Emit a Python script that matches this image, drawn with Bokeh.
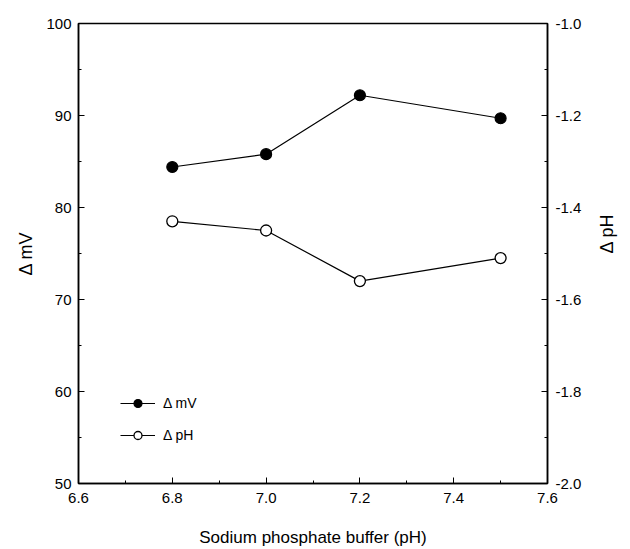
import math

from bokeh.plotting import figure
from bokeh.models import (Range1d, LinearAxis, FixedTicker, NumeralTickFormatter,
                          Legend, LegendItem)
from bokeh.embed import file_html
from bokeh.resources import INLINE

# Buffer pH values and the two measured responses
buffer_ph = [6.8, 7.0, 7.2, 7.5]
delta_mv = [84.4, 85.8, 92.2, 89.7]
delta_ph = [-1.43, -1.45, -1.56, -1.51]

x_ticks = [6.6, 6.8, 7.0, 7.2, 7.4, 7.6]
mv_ticks = [50, 60, 70, 80, 90, 100]
ph_ticks = [-2.0, -1.8, -1.6, -1.4, -1.2, -1.0]

FONT = "Liberation Sans"

p = figure(width=630, height=549, output_backend="svg", toolbar_location=None,
           x_range=Range1d(6.6, 7.6), y_range=Range1d(50, 100),
           min_border_left=78, min_border_right=76,
           min_border_top=23, min_border_bottom=66)
p.extra_y_ranges = {"ph": Range1d(-2.0, -1.0)}

p.grid.visible = False
p.background_fill_color = "white"
p.border_fill_color = "white"
p.outline_line_color = "black"
p.outline_line_width = 1.5


def style_axis(ax, ticks, minor, fmt):
    ax.ticker = FixedTicker(ticks=ticks, minor_ticks=minor)
    ax.formatter = NumeralTickFormatter(format=fmt)
    ax.axis_line_color = "black"
    ax.axis_line_width = 1.5
    ax.major_tick_in = 6
    ax.major_tick_out = 0
    ax.minor_tick_in = 3
    ax.minor_tick_out = 0
    ax.major_tick_line_color = "black"
    ax.minor_tick_line_color = "black"
    ax.major_label_text_font = FONT
    ax.major_label_text_font_size = "15px"
    ax.major_label_text_color = "black"
    ax.axis_label_text_font = FONT
    ax.axis_label_text_font_size = "18px"
    ax.axis_label_text_font_style = "normal"
    ax.axis_label_text_color = "black"


xax = p.xaxis[0]
style_axis(xax, x_ticks, [6.7, 6.9, 7.1, 7.3, 7.5], "0.0")
xax.axis_label = "Sodium phosphate buffer (pH)"
xax.axis_label_text_font_size = "17px"
xax.major_label_standoff = 9
xax.axis_label_standoff = 22

yax = p.yaxis[0]
style_axis(yax, mv_ticks, [55, 65, 75, 85, 95], "0")
yax.axis_label = "\u0394 mV"
yax.major_label_standoff = 7
yax.axis_label_standoff = 7

rax = LinearAxis(y_range_name="ph")
style_axis(rax, ph_ticks, [-1.9, -1.7, -1.5, -1.3, -1.1], "0.0")
rax.axis_label = "\u0394 pH"
rax.axis_label_orientation = math.pi / 2
rax.major_label_standoff = 8
rax.axis_label_standoff = 23
p.add_layout(rax, "right")

# Delta mV series (filled circles, left axis)
l1 = p.line(buffer_ph, delta_mv, line_color="black", line_width=1.2)
m1 = p.scatter(buffer_ph, delta_mv, marker="circle", size=11,
               fill_color="black", line_color="black", line_width=1.2)

# Delta pH series (open circles, right axis)
l2 = p.line(buffer_ph, delta_ph, line_color="black", line_width=1.2,
            y_range_name="ph")
m2 = p.scatter(buffer_ph, delta_ph, marker="circle", size=11,
               fill_color="white", line_color="black", line_width=1.3,
               y_range_name="ph")

legend = Legend(items=[LegendItem(label="\u0394 mV", renderers=[l1, m1]),
                       LegendItem(label="\u0394 pH", renderers=[l2, m2])],
                location=(42, 38), orientation="vertical")
legend.border_line_color = None
legend.background_fill_alpha = 0
legend.padding = 0
legend.margin = 0
legend.spacing = 12
legend.glyph_width = 35
legend.glyph_height = 20
legend.label_height = 20
legend.label_standoff = 8
legend.label_text_font = FONT
legend.label_text_font_size = "14px"
legend.label_text_color = "black"
p.add_layout(legend, "center")

open("out.html", "w").write(file_html(p, INLINE))
